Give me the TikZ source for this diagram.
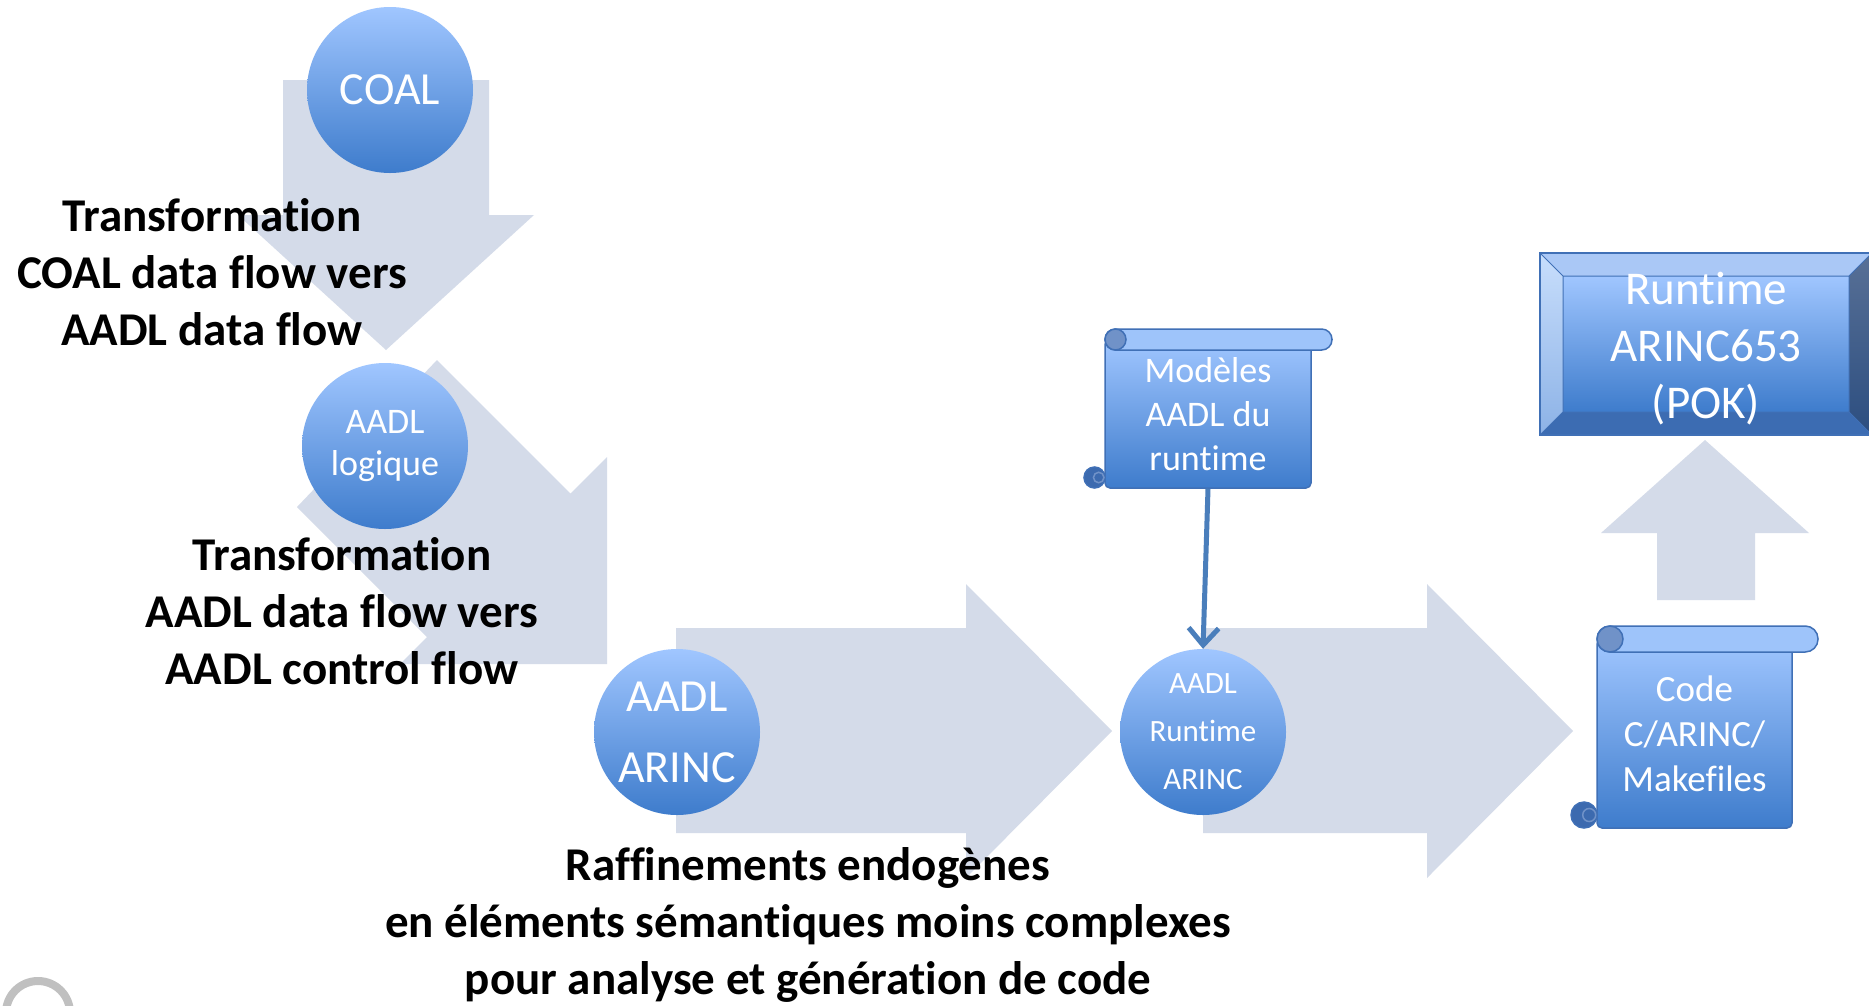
\documentclass[tikz,border=0pt]{standalone}
\usepackage{fontspec}
\setmainfont{Carlito}[Ligatures=NoCommon]
\usetikzlibrary{arrows.meta}

\definecolor{arrowgrey}{RGB}{212,219,233}
\definecolor{balltop}{RGB}{160,198,255}
\definecolor{ballbot}{RGB}{62,124,204}
\definecolor{scrollline}{RGB}{64,112,182}
\definecolor{rolllight}{RGB}{158,196,250}
\definecolor{curldark}{RGB}{60,106,175}
\definecolor{curlmid}{RGB}{112,146,200}
\definecolor{connblue}{RGB}{74,126,187}
\definecolor{ringgrey}{RGB}{192,192,192}
\definecolor{bevtop}{RGB}{170,200,246}
\definecolor{bevleftA}{RGB}{200,222,252}
\definecolor{bevleftB}{RGB}{140,178,230}
\definecolor{bevbot}{RGB}{60,108,178}
\definecolor{bevrightA}{RGB}{88,112,150}
\definecolor{bevrightB}{RGB}{44,78,128}

% roll and curls of a scroll: #1 left, #2 top, #3 right of body, #4 bottom, #5 roll height
\newcommand{\scrollparts}[5]{%
  \pgfmathsetmacro\scrrad{0.49*#5}%
  % bottom-left curl
  \filldraw[fill=curldark, draw=scrollline, line width=1.5pt]
    (#1-#5/2, #4-#5/2) circle[radius=#5/2];
  \draw[curlmid, line width=1.5pt]
    (#1-#5/2+#5/5, #4-#5/2) circle[radius=#5/4];
  % top roll
  \filldraw[fill=rolllight, draw=scrollline, line width=1.5pt, rounded corners=\scrrad pt]
    (#1, #2) rectangle (#3+#5, #2+#5);
  % top-left curl
  \filldraw[fill=curlmid, draw=scrollline, line width=1.5pt]
    (#1+#5/2, #2+#5/2) circle[radius=#5/2];
}

\tikzset{
  blockarrow/.style={fill=arrowgrey, draw=none},
  ball/.style={circle, minimum size=166pt, inner sep=0pt, top color=balltop,
    bottom color=ballbot, text=white, align=center},
  lbl/.style={align=center, text=black, font=\bfseries\fontsize{47}{57}\selectfont},
  scrollbody/.style={draw=scrollline, line width=1.5pt, top color=balltop,
    bottom color=ballbot, text=white, align=center, inner sep=0pt, rounded corners=5pt},
  conn/.style={draw=connblue, line width=5pt, -{Straight Barb[length=17pt,width=30pt]}},
}

\begin{document}
\begin{tikzpicture}[x=1pt, y=-1pt]
  \useasboundingbox (0,0) rectangle (1869,1005);
  \fill[white] (0,0) rectangle (1869,1005);

  % partial ring in the lower-left corner
  \draw[ringgrey, line width=8pt] (38,1013) circle[radius=32];

  % block arrows
  \fill[blockarrow] (283,80) -- (489,80) -- (489,215) -- (534,215) -- (386,350)
    -- (238,215) -- (283,215) -- cycle;
  \fill[blockarrow] (437,360) -- (570.5,493.5) -- (607,457) -- (607,664)
    -- (400,664) -- (427,637) -- (297,507) -- cycle;
  \fill[blockarrow] (676,628) -- (966,628) -- (966,584) -- (1112,731)
    -- (966,878) -- (966,833) -- (676,833) -- cycle;
  \fill[blockarrow] (1203,628) -- (1427,628) -- (1427,584) -- (1573,731)
    -- (1427,878) -- (1427,833) -- (1203,833) -- cycle;
  \fill[blockarrow] (1657,600) -- (1657,533) -- (1601,533) -- (1705,440)
    -- (1809,533) -- (1755,533) -- (1755,600) -- cycle;

  % model circles
  \node[ball, font=\fontsize{46}{56}\selectfont] (coal) at (390,90) {COAL};
  \node[ball, font=\fontsize{36}{42}\selectfont] (logique) at (385,446) {AADL\\logique};
  \node[ball, font=\fontsize{46}{71}\selectfont] (arinc) at (677,732) {AADL\\ARINC};
  \node[ball, font=\fontsize{31}{48}\selectfont] (aadlrt) at (1203,732) {AADL\\Runtime\\ARINC};

  % scroll: runtime models
  \node[scrollbody, minimum width=206pt, minimum height=148.5pt,
    font=\fontsize{36}{44}\selectfont] (modeles) at (1208,413.75)
    {Modèles\\AADL du\\runtime};
  \scrollparts{1105}{329}{1311}{488}{21}

  % scroll: generated code
  \node[scrollbody, minimum width=195pt, minimum height=189pt,
    font=\fontsize{37}{45}\selectfont] (code) at (1694.5,733.5)
    {Code\\C/ARINC/\\Makefiles};
  \scrollparts{1597}{626}{1792}{828}{26}

  % bevelled runtime box
  \shade[top color=balltop, bottom color=ballbot] (1563,276) rectangle (1849,412);
  \fill[bevtop] (1540,253) -- (1872,253) -- (1849,276) -- (1563,276) -- cycle;
  \shade[top color=bevleftA, bottom color=bevleftB]
    (1540,253) -- (1563,276) -- (1563,412) -- (1540,435) -- cycle;
  \fill[bevbot] (1540,435) -- (1563,412) -- (1849,412) -- (1872,435) -- cycle;
  \shade[top color=bevrightA, bottom color=bevrightB]
    (1872,253) -- (1849,276) -- (1849,412) -- (1872,435) -- cycle;
  \draw[scrollline, line width=1pt] (1540,253) -- (1563,276) (1540,435) -- (1563,412)
    (1872,253) -- (1849,276) (1872,435) -- (1849,412) (1563,276) rectangle (1849,412);
  \draw[scrollline, line width=2pt] (1540,253) rectangle (1872,435);
  \node[text=white, align=center, font=\fontsize{47}{57}\selectfont] (runtime)
    at (1706,349) {Runtime\\ARINC653\\(POK)};

  % connector from the runtime models to the runtime circle
  \draw[conn] (modeles.south) -- (aadlrt.north);

  % step descriptions
  \node[lbl] (tr1) at (212,272) {Transformation\\COAL data flow vers\\AADL data flow};
  \node[lbl] (tr2) at (342,611) {Transformation\\AADL data flow vers\\AADL control flow};
  \node[lbl] (raff) at (808,925)
    {Raffinements endogènes\\en éléments sémantiques moins complexes\\pour analyse et génération de code};
\end{tikzpicture}
\end{document}
